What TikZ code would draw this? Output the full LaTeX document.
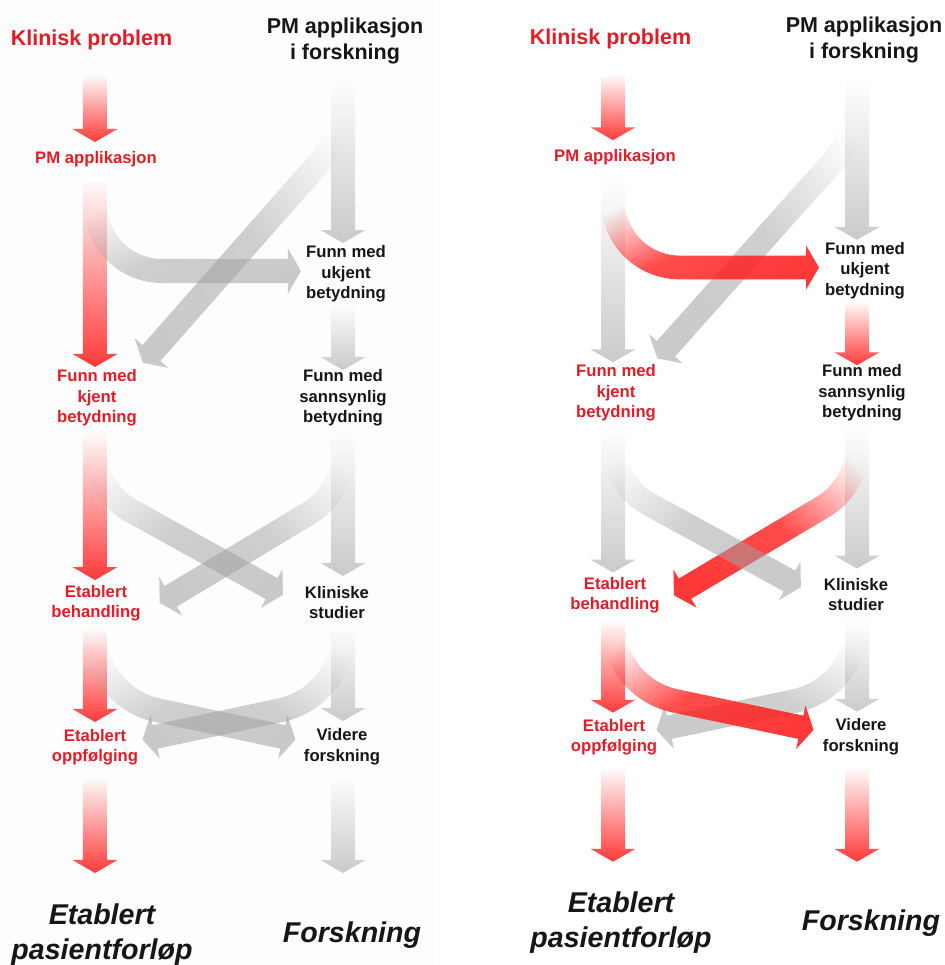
\documentclass[tikz,border=0pt]{standalone}
\usepackage{fontspec}
\setmainfont{Liberation Sans}
\usetikzlibrary{fadings}

\definecolor{labelred}{RGB}{228,28,38}
\definecolor{labelink}{RGB}{22,22,22}
\definecolor{flowred}{RGB}{255,30,30}
\definecolor{flowgray}{RGB}{160,160,160}
\definecolor{panelbg}{RGB}{253,253,253}

% fade for the bent flows: clear at the start, nearly solid from the middle on
\tikzfading[name=flowfade, top color=transparent!100, bottom color=transparent!0, middle color=transparent!10]

\tikzset{
  redflow/.style={fill=flowred, fill opacity=0.88},
  grayflow/.style={fill=flowgray, fill opacity=0.55},
  headline/.style={inner sep=0pt, align=center, font=\fontsize{21.5}{26}\selectfont\bfseries},
  stagelabel/.style={inner sep=0pt, align=center, font=\fontsize{16.7}{20.5}\selectfont\bfseries},
  outcome/.style={inner sep=0pt, align=center, font=\fontsize{28.6}{35}\selectfont\bfseries\itshape, text=labelink},
  clinical/.style={text=labelred},
  research/.style={text=labelink},
}

% Straight downward flow arrow, fading in from the top.
% #1 style, #2 column x, #3 top y (measured downwards), #4 tip y
\newcommand{\vflow}[4]{%
  \path[#1, path fading=north]
    ({#2-12},{-(#3)}) -- ({#2-12},{-(#4)+13}) -- ({#2-22.5},{-(#4)+13})
    -- ({#2},{-(#4)}) -- ({#2+22.5},{-(#4)+13}) -- ({#2+12},{-(#4)+13})
    -- ({#2+12},{-(#3)}) -- cycle;}

% Bent flow arrow: drops from a column, turns on a circular bend, runs straight to its head.
% #1 style, #2 column x, #3 top y (downwards), #4 straight drop, #5 bend radius,
% #6 turn angle, #7 turn sense (+1 east, -1 west), #8 straight run, #9 fading angle
\newcommand{\cflow}[9]{%
  \path[#1, path fading=flowfade, fading angle=#9]
    ({#2-(#7)*12},{-(#3)})
    -- ++(0,{-(#4)})
    arc[start angle={90+90*(#7)}, delta angle={(#7)*(#6)}, radius={#5+12}]
    -- ++({270+(#7)*(#6)}:{#8})
    -- ++({270+(#7)*(#6)-90*(#7)}:10.5)
    -- ++({270+(#7)*(#6)+(#7)*60}:26)
    -- ++({270+(#7)*(#6)+(#7)*120}:26)
    -- ++({270+(#7)*(#6)-90*(#7)}:10.5)
    -- ++({90+(#7)*(#6)}:{#8})
    arc[start angle={90+90*(#7)+(#7)*(#6)}, delta angle={-(#7)*(#6)}, radius={#5-12}]
    -- ++(0,{#4})
    -- cycle;}

% One complete pathway panel; #1 prefixes the node names.
\newcommand{\drawpanel}[1]{%
  % straight flows
  \vflow{kp2pm}{\pL}{75}{142}
  \vflow{pmr2uk}{\pR}{80}{243}
  \vflow{pm2kj}{\pL}{180}{367}
  \vflow{uk2sa}{\pR}{305}{370}
  \vflow{kj2eb}{\pL}{432}{580}
  \vflow{sa2ks}{\pR}{432}{576}
  \vflow{eb2eo}{\pL}{628}{722}
  \vflow{ks2vf}{\pR}{628}{721}
  \vflow{eo2end}{\pL}{777}{873}
  \vflow{vf2end}{\pR}{777}{873}
  % crossing flows
  \cflow{pmr2kj}{\pR}{82}{17}{100}{41.4}{-1}{251}{-45}
  \cflow{pm2uk}{\pL}{188}{16}{67}{90}{1}{126}{45}
  \cflow{sa2eb}{\pR}{430}{23.5}{70}{59}{-1}{161}{-45}
  \cflow{kj2ks}{\pL}{430}{19.5}{70}{61}{1}{160.6}{45}
  \cflow{ks2eo}{\pR}{628}{5}{79}{78}{-1}{128}{-45}
  \cflow{eb2vf}{\pL}{628}{5}{79}{78}{1}{128}{45}
  % labels
  \node[headline, clinical] (#1kp) at (\ox+91.5,-39.5) {Klinisk problem};
  \node[headline, research] (#1pmr) at (\ox+345,-40.5) {PM applikasjon\\i forskning};
  \node[stagelabel, clinical] (#1pm) at (\ox+96,-159) {PM applikasjon};
  \node[stagelabel, research] (#1uk) at (\ox+346,-274.2) {Funn med\\ukjent\\betydning};
  \node[stagelabel, clinical] (#1kj) at (\ox+97,-398) {Funn med\\kjent\\betydning};
  \node[stagelabel, research] (#1sa) at (\ox+343,-398) {Funn med\\sannsynlig\\betydning};
  \node[stagelabel, clinical] (#1eb) at (\ox+96,-603.3) {Etablert\\behandling};
  \node[stagelabel, research] (#1ks) at (\ox+337,-602.5) {Kliniske\\studier};
  \node[stagelabel, clinical] (#1eo) at (\ox+95,-747) {Etablert\\oppfølging};
  \node[stagelabel, research] (#1vf) at (\ox+342,-746.5) {Videre\\forskning};
  \node[outcome] (#1endL) at (\ox+102,-935) {Etablert\\pasientforløp};
  \node[outcome] (#1endR) at (\ox+352,-935) {Forskning};
}

\begin{document}
\begin{tikzpicture}[x=1pt, y=1pt]
  \useasboundingbox (0,0) rectangle (944,-965);
  \fill[white] (0,0) rectangle (944,-965);
  \fill[panelbg] (0,0) rectangle (435,-965);

  % standard pathway: everything known is handled clinically
  \begin{scope}[
      kp2pm/.style=redflow, pmr2uk/.style=grayflow, pm2kj/.style=redflow,
      uk2sa/.style=grayflow, kj2eb/.style=redflow, sa2ks/.style=grayflow,
      eb2eo/.style=redflow, ks2vf/.style=grayflow, eo2end/.style=redflow,
      vf2end/.style=grayflow, pmr2kj/.style=grayflow, pm2uk/.style=grayflow,
      sa2eb/.style=grayflow, kj2ks/.style=grayflow, ks2eo/.style=grayflow,
      eb2vf/.style=grayflow]
    \def\pL{95}\def\pR{343}\def\ox{0}
    \drawpanel{L}
  \end{scope}

  % pathway through research findings back into the clinic
  \begin{scope}[y=0.987pt,
      kp2pm/.style=redflow, pmr2uk/.style=grayflow, pm2kj/.style=grayflow,
      uk2sa/.style=redflow, kj2eb/.style=grayflow, sa2ks/.style=grayflow,
      eb2eo/.style=redflow, ks2vf/.style=grayflow, eo2end/.style=redflow,
      vf2end/.style=redflow, pmr2kj/.style=grayflow, pm2uk/.style=redflow,
      sa2eb/.style=redflow, kj2ks/.style=grayflow, ks2eo/.style=grayflow,
      eb2vf/.style=redflow]
    \def\pL{613}\def\pR{857}\def\ox{519}
    \drawpanel{R}
  \end{scope}
\end{tikzpicture}
\end{document}
